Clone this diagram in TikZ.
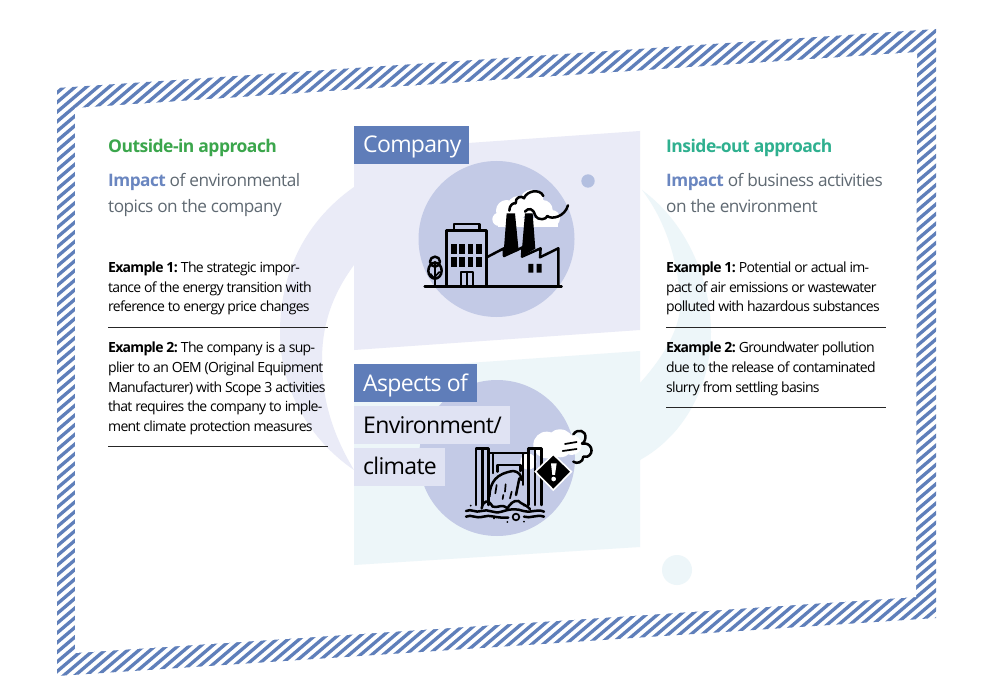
\documentclass[tikz,border=0pt]{standalone}
\usepackage{fontspec}
\setmainfont{Open Sans}[LetterSpace=-5]
\newfontfamily\tagfont{Open Sans}[LetterSpace=-3]
\newfontfamily\subfont{Open Sans}[LetterSpace=-3]
\definecolor{hatch}{HTML}{5F7FBA}
\definecolor{lav}{HTML}{EAEBF7}
\definecolor{tealbg}{HTML}{EDF6F9}
\definecolor{disc}{HTML}{C3CAE6}
\definecolor{dotb}{HTML}{B3BFE0}
\definecolor{lab}{HTML}{5F7DB9}
\definecolor{labl}{HTML}{E0E3F3}
\definecolor{grn}{HTML}{3BA64C}
\definecolor{tl}{HTML}{2FB08F}
\definecolor{imp}{HTML}{6A86C0}
\definecolor{gry}{HTML}{5F6972}
\tikzset{
 body/.style={anchor=base west,inner sep=0pt,font=\fontsize{14}{16}\selectfont,text=black},
 head/.style={anchor=base west,inner sep=0pt,font=\subfont\fontsize{17.5}{20}\selectfont\bfseries},
 sub/.style={anchor=base west,inner sep=0pt,font=\subfont\fontsize{17.2}{20}\selectfont,text=gry},
 rulel/.style={line width=1pt,black!85},
 tag/.style={anchor=base west,inner sep=0pt,font=\tagfont\fontsize{23}{26}\selectfont},
 ico/.style={line width=2.5pt,black,line join=round,line cap=round},
 icot/.style={line width=1.7pt,black,line join=round,line cap=round},
}
\newcommand{\bodyline}[4]{\node[body] (#1) at (#2,#3) {#4};}
\begin{document}
\begin{tikzpicture}[x=1pt,y=-1pt]
\useasboundingbox (0,0) rectangle (992,700);
\fill[white] (0,0) rectangle (992,700);
% hatched frame
\begin{scope}
 \clip (57,88) -- (936,29) -- (936,618) -- (57,676) -- cycle;
 \foreach \k in {-70,...,90}
   \draw[hatch,line width=3.3pt] ({\k*11.35},720) -- ++(860,-731);
\end{scope}
\fill[white] (75,108) -- (917,52) -- (916,597) -- (75,653) -- cycle;
% crescents
\fill[lav] (354,187) .. controls (300,225) and (280,280) .. (280,332)
   .. controls (280,390) and (310,440) .. (354,470)
   .. controls (330,430) and (322,395) .. (322,360)
   .. controls (322,325) and (332,295) .. (354,265) -- cycle;
\fill[tealbg] (642,190) .. controls (690,225) and (711,285) .. (711,332)
   .. controls (711,385) and (685,435) .. (640,460) -- (640,383)
   .. controls (670,350) and (682,320) .. (680,300)
   .. controls (678,260) and (665,220) .. (642,190) -- cycle;
% panels
\fill[lav] (354,151) -- (640,131) -- (640,330) -- (354,350) -- cycle;
\fill[tealbg] (354,371) -- (640,351) -- (640,547) -- (354,565) -- cycle;
\fill[disc] (496.5,239) circle (78);
\fill[disc] (497,458) circle (78);
\fill[dotb] (588,181) circle (6.7);
\fill[tealbg] (677,570) circle (15);
% tags
\fill[lab] (354,126) rectangle (469,164);
\node[tag,text=white] (company) at (363,153) {Company};
\fill[lab] (354,364) rectangle (477,402);
\fill[labl] (354,406) rectangle (510,444);
\fill[labl] (354,448) rectangle (445,486);
\node[tag,text=white] (aspects) at (363,391) {Aspects of};
\node[tag,text=black] (envir) at (363,433) {Environment/};
\node[tag,text=black] (clim) at (363,474) {climate};
% factory icon (coordinates of a 3x crop)
\begin{scope}[shift={(350,120)},x=0.3333pt,y=-0.3333pt]
 \fill[white] (447,298) circle (20) (470,272) circle (32) (505,262) circle (34) (545,245) circle (36)
   (578,270) circle (30) (605,295) circle (25);
 \fill[white] (445,295) rectangle (625,320);
 \draw[ico] (224,500) -- (635,500);
 \draw[ico] (290,500) -- (290,332) -- (410,332) -- (410,500);
 \draw[ico] (312,332) -- (312,312) -- (388,312) -- (388,332);
 \foreach \xx in {303,328,353,378} \foreach \yy in {372,411}
   \fill (\xx,\yy) rectangle ++(17,29);
 \draw[icot] (332,500) -- (332,455) -- (368,455) -- (368,500) (350,455) -- (350,500);
 \draw[ico] (255,425) circle (15);
 \draw[ico] (255,452) ellipse (20 and 24);
 \draw[icot] (255,425) -- (255,500) (255,478) -- (242,462) (255,470) -- (268,456);
 \draw[ico] (410,412) -- (462,385) -- (462,408) -- (518,382) -- (516,410) -- (572,385) -- (570,412) -- (625,385) -- (625,500);
 \fill (470,280) -- (495,280) -- (506,392) -- (460,410) -- cycle;
 \fill (525,280) -- (548,280) -- (556,386) -- (514,410) -- cycle;
 \fill (535,432) rectangle (550,458) (560,432) rectangle (575,458);
 \draw[ico] (478,272) .. controls (478,255) and (490,248) .. (497,250)
    .. controls (495,232) and (515,225) .. (522,235)
    .. controls (530,212) and (570,205) .. (580,228);
 \draw[ico] (525,275) .. controls (535,262) and (550,265) .. (555,285)
    .. controls (565,305) and (590,298) .. (592,288)
    .. controls (605,300) and (645,290) .. (654,256);
\end{scope}
% discharge icon
\begin{scope}[shift={(350,345)},x=0.3333pt,y=-0.3333pt]
 \fill[white] (535,350) circle (24) (590,300) circle (40) (630,295) circle (42) (665,300) circle (30);
 \draw[ico] (670,268) .. controls (682,250) and (710,255) .. (706,280) .. controls (704,290) and (700,295) .. (696,296)
   .. controls (725,290) and (735,325) .. (712,335) .. controls (708,337) and (704,337) .. (700,335)
   .. controls (700,352) and (680,358) .. (670,350);
 \draw[icot] (645,297) -- (680,291) (638,318) -- (680,312);
 \draw[ico] (378,480) -- (378,310) -- (415,310) -- (415,480) (398,310) -- (398,480);
 \draw[ico] (415,324) -- (535,324);
 \draw[ico] (535,480) -- (535,310) -- (575,310) -- (575,480) (555,310) -- (555,480);
 \draw[icot] (430,324) -- (430,385) (518,324) -- (518,420);
 \draw[ico] (442,380) -- (442,360) -- (512,360) -- (512,378);
 \draw[ico] (418,455) .. controls (420,410) and (440,385) .. (490,378) .. controls (505,380) and (515,390) .. (514,405)
    (508,400) -- (498,450);
 \draw[icot] (440,420) -- (436,445) (467,418) -- (465,440) (460,450) -- (458,462) (485,440) -- (480,460);
 \draw[ico] (395,490) .. controls (400,465) and (415,462) .. (428,485) .. controls (445,490) and (455,475) .. (472,490)
   .. controls (480,478) and (490,465) .. (505,468) .. controls (515,478) and (530,480) .. (540,492);
 \draw[ico] (348,498) .. controls (365,490) and (375,505) .. (395,498) .. controls (415,490) and (430,508) .. (455,500)
   .. controls (480,492) and (500,490) .. (520,498) .. controls (540,506) and (560,490) .. (582,500);
 \draw[ico] (348,515) .. controls (365,507) and (375,522) .. (400,515) .. controls (420,508) and (435,520) .. (475,518)
   (522,515) .. controls (540,522) and (560,507) .. (582,515);
 \draw[icot] (498,516) circle (10);
 \fill (362,482) circle (3) (432,520) circle (3) (472,531) circle (3) (522,530) circle (3) (522,482) circle (3);
 \fill[black,draw=white,line width=1.6pt] (610,328) -- (664,380) -- (610,435) -- (556,380) -- cycle;
 \fill[white] (603,355) -- (620,355) -- (615,390) -- (607,390) -- cycle;
 \fill[white] (611,402) circle (7);
\end{scope}
% left column
\node[head,text=grn] (lh) at (108,153) {Outside-in approach};
\node[sub] (l1) at (108,187) {\textcolor{imp}{\bfseries Impact} of environmental};
\node[sub] (l2) at (108,213) {topics on the company};
\bodyline{la}{108}{273}{\textbf{Example 1:} The strategic impor-}
\bodyline{lb}{108}{293}{tance of the energy transition with}
\bodyline{lc}{108}{312}{reference to energy price changes}
\coordinate (r1a) at (108,327.5); \coordinate (r1b) at (328,327.5);
\draw[rulel] (r1a) -- (r1b);
\bodyline{ld}{108}{352}{\textbf{Example 2:} The company is a sup-}
\bodyline{le}{108}{372}{plier to an OEM (Original Equipment}
\bodyline{lf}{108}{392}{Manufacturer) with Scope 3 activities}
\bodyline{lg}{108}{411}{that requires the company to imple-}
\bodyline{lh2}{108}{431}{ment climate protection measures}
\coordinate (r2a) at (108,446.5); \coordinate (r2b) at (328,446.5);
\draw[rulel] (r2a) -- (r2b);
% right column
\node[head,text=tl] (rh) at (666,153) {Inside-out approach};
\node[sub] (r1) at (666,187) {\textcolor{imp}{\bfseries Impact} of business activities};
\node[sub] (r2) at (666,213) {on the environment};
\bodyline{ra}{666}{273}{\textbf{Example 1:} Potential or actual im-}
\bodyline{rb}{666}{293}{pact of air emissions or wastewater}
\bodyline{rc}{666}{312}{polluted with hazardous substances}
\coordinate (r3a) at (666,327.5); \coordinate (r3b) at (886,327.5);
\draw[rulel] (r3a) -- (r3b);
\bodyline{rd}{666}{352}{\textbf{Example 2:} Groundwater pollution}
\bodyline{re}{666}{372}{due to the release of contaminated}
\bodyline{rf}{666}{392}{slurry from settling basins}
\coordinate (r4a) at (666,407); \coordinate (r4b) at (886,407);
\draw[rulel] (r4a) -- (r4b);
\end{tikzpicture}
\end{document}
